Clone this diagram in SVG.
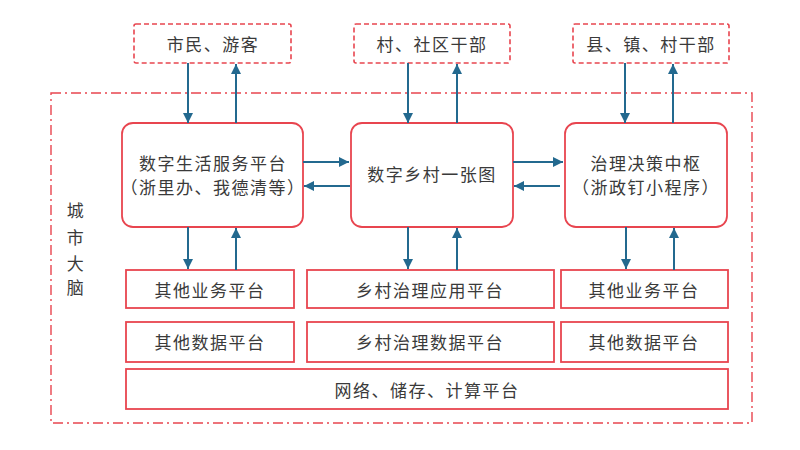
<svg xmlns="http://www.w3.org/2000/svg" width="800" height="450" viewBox="0 0 800 450">
<style>
text{font-family:"Noto Sans CJK SC","Noto Sans",sans-serif;font-size:17px;fill:#3a3a3a;text-anchor:middle;dominant-baseline:central;letter-spacing:1.5px}
.user{fill:#fff;stroke:#e8454f;stroke-width:1.6;stroke-dasharray:5 3}
.main{fill:#fff;stroke:#e8454f;stroke-width:1.8}
.plat{fill:#fff;stroke:#e8454f;stroke-width:1.8}
.outer{fill:none;stroke:#e8454f;stroke-width:1.4;stroke-dasharray:10 4 2 4}
.conn line{stroke:#23698f;stroke-width:2;marker-end:url(#ah)}
</style>
<defs>
<marker id="ah" viewBox="0 0 10 10" refX="10" refY="5" markerWidth="5" markerHeight="5" orient="auto" markerUnits="strokeWidth">
<path d="M0,0 L10,5 L0,10 z" fill="#23698f"/>
</marker>
</defs>
<rect width="800" height="450" fill="#fff"/>
<g id="cityBrain">
<rect class="outer" x="51" y="93" width="701" height="330"/>
<text x="76" y="209">城</text>
<text x="76" y="236">市</text>
<text x="76" y="262">大</text>
<text x="76" y="286">脑</text>
</g>
<g id="citizens"><rect class="user" x="134" y="24" width="157" height="39" rx="2"/><text x="213" y="43">市民、游客</text></g>
<g id="cadres"><rect class="user" x="354" y="24" width="156" height="39" rx="2"/><text x="432" y="43">村、社区干部</text></g>
<g id="officials"><rect class="user" x="573" y="24" width="156" height="39" rx="2"/><text x="651" y="43">县、镇、村干部</text></g>
<g id="lifePlatform"><rect class="main" x="122" y="123" width="181" height="104" rx="11"/><text x="213" y="162">数字生活服务平台</text><text x="213" y="186">（浙里办、我德清等）</text></g>
<g id="villageMap"><rect class="main" x="351" y="123" width="162" height="104" rx="11"/><text x="432" y="173">数字乡村一张图</text></g>
<g id="decisionHub"><rect class="main" x="565" y="123" width="162" height="104" rx="11"/><text x="646" y="162">治理决策中枢</text><text x="646" y="186">（浙政钉小程序）</text></g>
<g id="otherBiz1"><rect class="plat" x="126" y="270" width="168" height="38"/><text x="210" y="289">其他业务平台</text></g>
<g id="ruralApp"><rect class="plat" x="307" y="270" width="247" height="38"/><text x="430" y="289">乡村治理应用平台</text></g>
<g id="otherBiz2"><rect class="plat" x="561" y="270" width="167" height="38"/><text x="644" y="289">其他业务平台</text></g>
<g id="otherData1"><rect class="plat" x="126" y="322" width="168" height="40"/><text x="210" y="341">其他数据平台</text></g>
<g id="ruralData"><rect class="plat" x="307" y="322" width="247" height="40"/><text x="430" y="341">乡村治理数据平台</text></g>
<g id="otherData2"><rect class="plat" x="561" y="322" width="167" height="40"/><text x="644" y="341">其他数据平台</text></g>
<g id="infra"><rect class="plat" x="126" y="369" width="602" height="40"/><text x="427" y="389">网络、储存、计算平台</text></g>
<g class="conn" id="connectors">
<line x1="188" y1="63" x2="188" y2="123"/>
<line x1="236" y1="123" x2="236" y2="64"/>
<line x1="408" y1="63" x2="408" y2="123"/>
<line x1="457" y1="123" x2="457" y2="64"/>
<line x1="625" y1="63" x2="625" y2="123"/>
<line x1="673" y1="123" x2="673" y2="64"/>
<line x1="303" y1="162" x2="349" y2="162"/>
<line x1="350" y1="186" x2="304" y2="186"/>
<line x1="513" y1="162" x2="563" y2="162"/>
<line x1="560" y1="186" x2="514" y2="186"/>
<line x1="188" y1="227" x2="188" y2="269"/>
<line x1="236" y1="270" x2="236" y2="228"/>
<line x1="408" y1="227" x2="408" y2="269"/>
<line x1="457" y1="270" x2="457" y2="228"/>
<line x1="626" y1="227" x2="626" y2="269"/>
<line x1="674" y1="270" x2="674" y2="228"/>
</g>
</svg>
